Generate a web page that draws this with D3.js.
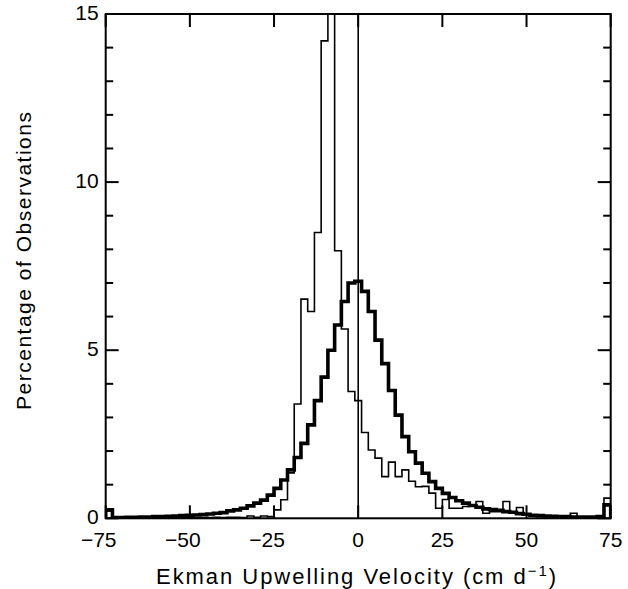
<!DOCTYPE html>
<html>
<head>
<meta charset="utf-8">
<script src="https://cdn.jsdelivr.net/npm/d3@7"></script>
<style>
  html, body { margin: 0; padding: 0; background: #fff; }
  svg { display: block; }
  text { font-family: "Liberation Sans", Arial, sans-serif; fill: #000; }
</style>
</head>
<body>
<svg id="chart" width="628" height="589"></svg>
<script>
// ---- Data (bin centers every 2 cm/d, bins from -75 to 75) ----
const binCenters = d3.range(-74, 75, 2);

// Thick histogram (percentage of observations)
const thickValues = [
  0.25, 0.02, 0.02, 0.03, 0.03, 0.04, 0.04, 0.05, 0.05, 0.06, // -74 .. -56
  0.07, 0.08, 0.09, 0.10, 0.11, 0.13, 0.15, 0.17, 0.22, 0.25, // -54 .. -36
  0.30, 0.37, 0.45, 0.54, 0.69, 0.89, 1.14, 1.44, 1.81, 2.23, // -34 .. -16
  2.78, 3.50, 4.20, 5.00, 5.75, 6.45, 7.00, 7.05, 6.75, 6.15, // -14 .. 4
  5.30, 4.60, 3.80, 3.07, 2.43, 1.98, 1.64, 1.34, 1.09, 0.89, // 6 .. 24
  0.74, 0.62, 0.52, 0.45, 0.38, 0.33, 0.28, 0.26, 0.24, 0.20, // 26 .. 44
  0.18, 0.14, 0.12, 0.09, 0.08, 0.07, 0.06, 0.05, 0.05, 0.04, // 46 .. 64
  0.04, 0.04, 0.04, 0.05, 0.40                                // 66 .. 74
];

// Thin histogram (percentage of observations)
const thinValues = [
  0.22, 0.02, 0.01, 0.02, 0.01, 0.02, 0.01, 0.02, 0.01, 0.02, // -74 .. -56
  0.02, 0.02, 0.02, 0.02, 0.02, 0.02, 0.03, 0.02, 0.03, 0.03, // -54 .. -36
  0.02, 0.07, 0.03, 0.07, 0.05, 0.25, 0.55, 1.35, 3.40, 6.52, // -34 .. -16
  6.15, 8.50, 14.20, 15.05, 7.96, 5.63, 3.77, 3.50, 2.55, 2.03, // -14 .. 4
  1.79, 1.24, 1.67, 1.24, 1.44, 1.10, 0.94, 0.95, 0.75, 0.30, // 6 .. 24
  0.56, 0.30, 0.30, 0.35, 0.40, 0.50, 0.15, 0.20, 0.20, 0.50, // 26 .. 44
  0.17, 0.32, 0.10, 0.06, 0.05, 0.05, 0.04, 0.04, 0.04, 0.15, // 46 .. 64
  0.03, 0.03, 0.03, 0.03, 0.60                                // 66 .. 74
];

const xTicks = [-75, -50, -25, 0, 25, 50, 75];
const yTicks = [0, 5, 10, 15];
const yMinorTicks = d3.range(0, 16, 1);
const xTitle = "Ekman Upwelling Velocity (cm d";
const xTitleSup = "\u22121";
const xTitleEnd = ")";
const yTitle = "Percentage of Observations";

// ---- Layout ----
const svg = d3.select("#chart");
const L = 105.7, R = 610.7, T = 14, B = 518.3;
const binWidth = 2;

const x = d3.scaleLinear().domain([-75, 75]).range([L, R]);
const y = d3.scaleLinear().domain([0, 15]).range([B, T]);

svg.append("defs").append("clipPath").attr("id", "plotclip")
  .append("rect").attr("x", L).attr("y", T).attr("width", R - L).attr("height", B - T);

function stepPoints(values) {
  const pts = [[binCenters[0] - binWidth / 2, 0]];
  values.forEach((v, i) => {
    pts.push([binCenters[i] - binWidth / 2, v]);
    pts.push([binCenters[i] + binWidth / 2, v]);
  });
  pts.push([binCenters[binCenters.length - 1] + binWidth / 2, 0]);
  return pts;
}

const line = d3.line().x(d => x(d[0])).y(d => y(d[1]));

const g = svg.append("g").attr("clip-path", "url(#plotclip)");

// zero line
g.append("line")
  .attr("x1", x(0)).attr("x2", x(0)).attr("y1", y(0)).attr("y2", y(15))
  .attr("stroke", "#000").attr("stroke-width", 1.6);

// thin histogram
g.append("path").attr("d", line(stepPoints(thinValues)))
  .attr("fill", "none").attr("stroke", "#000").attr("stroke-width", 1.6)
  .attr("stroke-linejoin", "miter");

// thick histogram
g.append("path").attr("d", line(stepPoints(thickValues)))
  .attr("fill", "none").attr("stroke", "#000").attr("stroke-width", 3.6)
  .attr("stroke-linejoin", "miter");

// ---- Frame and ticks ----
svg.append("rect").attr("x", L).attr("y", T).attr("width", R - L).attr("height", B - T)
  .attr("fill", "none").attr("stroke", "#000").attr("stroke-width", 2);

const majorLen = 13, minorLen = 7.5;
const tickG = svg.append("g").attr("stroke", "#000").attr("stroke-width", 2);

xTicks.forEach(t => {
  tickG.append("line").attr("x1", x(t)).attr("x2", x(t)).attr("y1", B).attr("y2", B - majorLen);
  tickG.append("line").attr("x1", x(t)).attr("x2", x(t)).attr("y1", T).attr("y2", T + majorLen);
});
yMinorTicks.forEach(t => {
  const len = yTicks.includes(t) ? majorLen : minorLen;
  tickG.append("line").attr("x1", L).attr("x2", L + len).attr("y1", y(t)).attr("y2", y(t));
  tickG.append("line").attr("x1", R).attr("x2", R - len).attr("y1", y(t)).attr("y2", y(t));
});

// ---- Tick labels ----
const fmt = v => (v < 0 ? "\u2212" + Math.abs(v) : String(v));
svg.append("g").selectAll("text").data(xTicks).join("text")
  .attr("x", d => x(d) + (d < 0 ? -7 : 0))
  .attr("y", 547)
  .attr("text-anchor", "middle")
  .attr("font-size", 21)
  .text(fmt);

svg.append("g").selectAll("text").data(yTicks).join("text")
  .attr("x", L - 7)
  .attr("y", d => y(d) + 6)
  .attr("text-anchor", "end")
  .attr("font-size", 21)
  .text(d => String(d));

// ---- Axis titles ----
const xt = svg.append("text")
  .attr("x", 356).attr("y", 584)
  .attr("text-anchor", "middle")
  .attr("font-size", 22)
  .attr("textLength", 400)
  .attr("lengthAdjust", "spacing");
xt.append("tspan").text(xTitle);
xt.append("tspan").attr("dy", -8).attr("font-size", 15).text(xTitleSup);
xt.append("tspan").attr("dy", 8).text(xTitleEnd);

svg.append("text")
  .attr("transform", "translate(31,261) rotate(-90)")
  .attr("text-anchor", "middle")
  .attr("font-size", 21)
  .attr("textLength", 298)
  .attr("lengthAdjust", "spacing")
  .text(yTitle);
</script>
</body>
</html>
